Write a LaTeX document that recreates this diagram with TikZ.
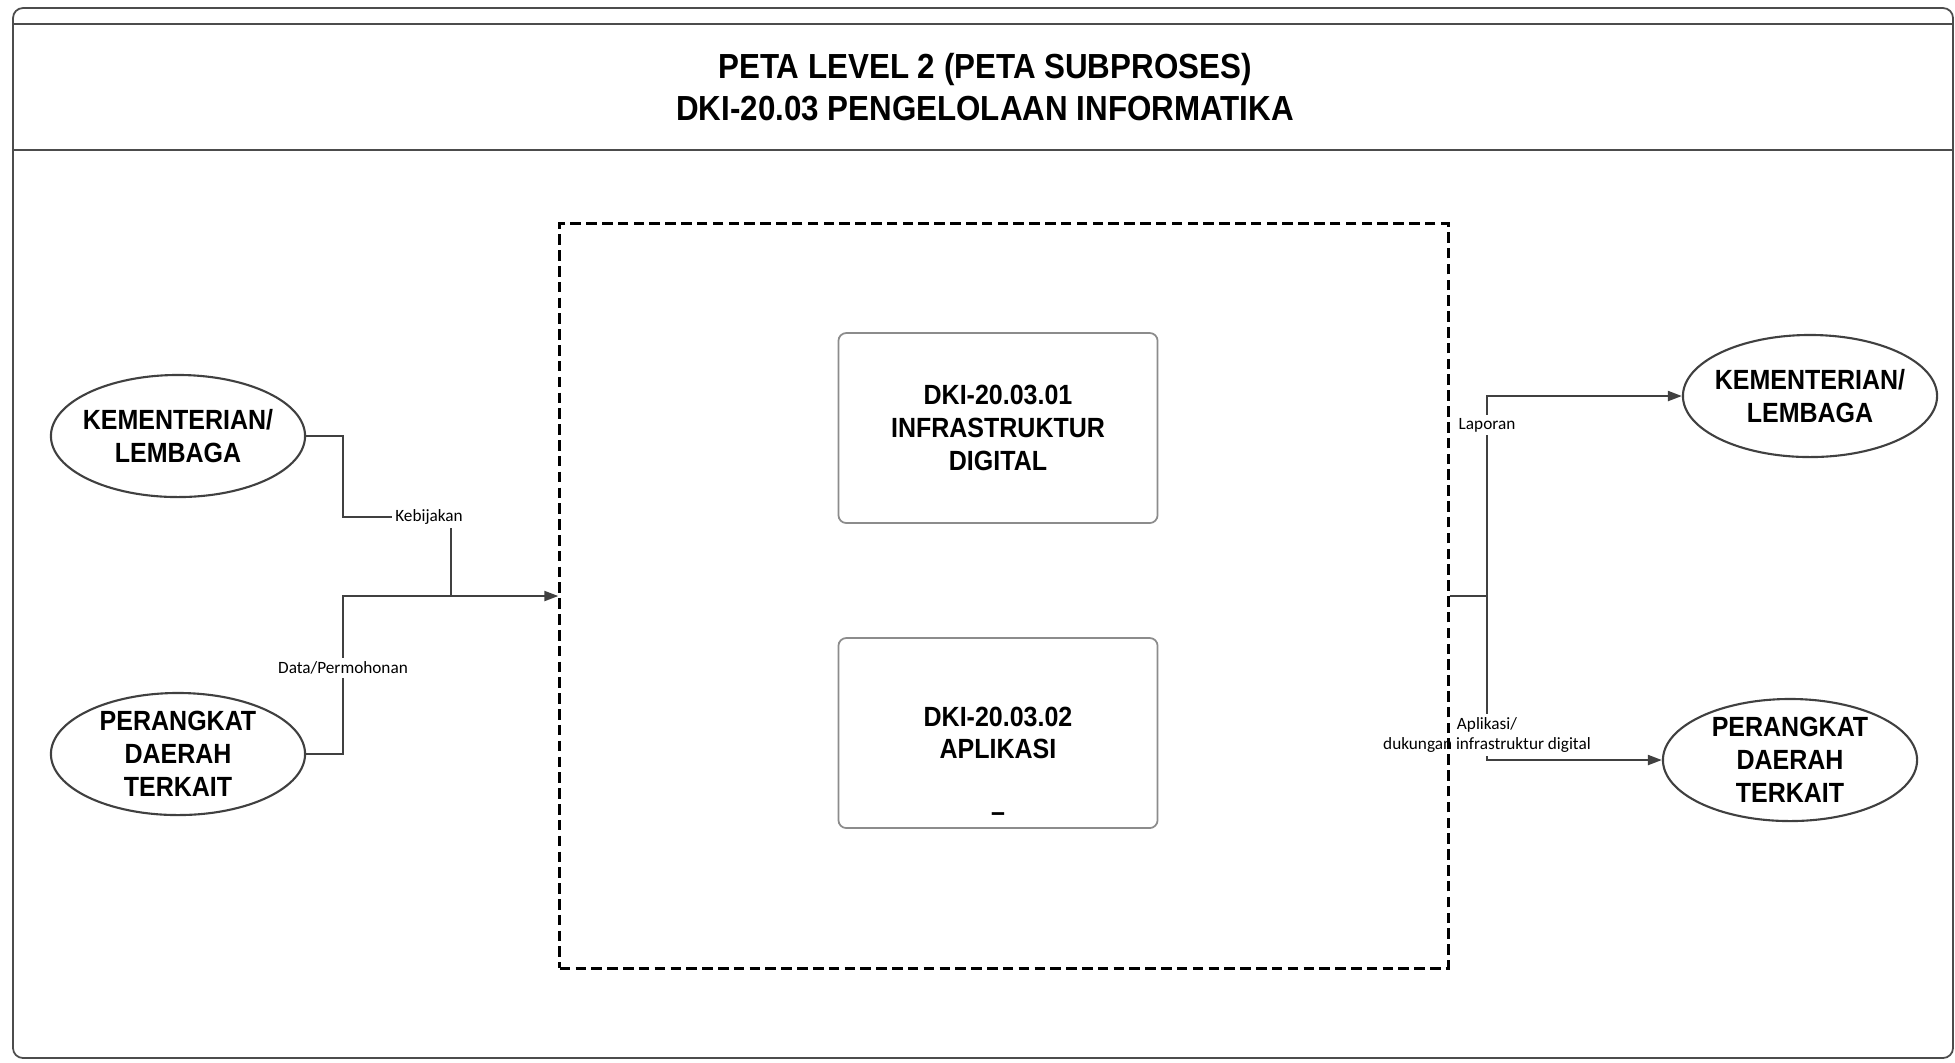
\documentclass[tikz,border=0pt]{standalone}
\usepackage{fontspec}
\setmainfont{Liberation Sans}
\newfontfamily\narrowfont[FakeStretch=0.9]{Liberation Sans}
\newfontfamily\labelfont{Carlito}
\usepackage{tikz}
\usetikzlibrary{arrows.meta,positioning,shapes.geometric,backgrounds}

\begin{document}
\begin{tikzpicture}[
  x=0.01cm, y=-0.01cm,
  frame/.style={draw=black!70, line width=0.5pt},
  party/.style={ellipse, draw=black!75, line width=0.6pt,
    minimum width=2.54cm, minimum height=1.22cm,
    inner xsep=-2pt, inner ysep=-1pt,
    align=center, font=\narrowfont\bfseries\fontsize{7.9}{9.4}\selectfont},
  subbox/.style={rectangle, rounded corners=0.08cm, draw=black!45,
    line width=0.5pt, minimum width=3.19cm, minimum height=1.9cm,
    align=center, font=\narrowfont\bfseries\fontsize{7.9}{9.3}\selectfont},
  subproc/.style={rectangle, draw=black, line width=0.8pt,
    dash pattern=on 3pt off 1.5pt, minimum width=8.88cm,
    minimum height=7.44cm},
  flow/.style={draw=black!75, line width=0.6pt},
  arr/.style={-{Triangle[length=1.4mm, width=1mm]}},
  lbl/.style={font=\labelfont\fontsize{4.9}{5.9}\selectfont,
    fill=white, inner sep=1pt, align=center},
]
  \useasboundingbox (0,0) rectangle (1955,1062);

  % Page frame and header
  \draw[frame, rounded corners=0.1cm] (13,8) rectangle (1953,1058);
  \draw[frame] (13,24) -- (1953,24);
  \draw[frame] (13,150) -- (1953,150);
  \node[align=center, font=\narrowfont\bfseries\fontsize{9.9}{11.7}\selectfont]
    (title) at (985,87)
    {PETA LEVEL 2 (PETA SUBPROSES)\\DKI-20.03 PENGELOLAAN INFORMATIKA};

  % Subprocess area
  \node[subproc] (SP) at (1004,596) {};
  \node[subbox] (S1) at (998,428)
    {DKI-20.03.01\\INFRASTRUKTUR\\DIGITAL};
  \node[subbox] (S2) at (998,733)
    {DKI-20.03.02\\APLIKASI};
  \node[inner sep=0pt, font=\narrowfont\bfseries\fontsize{7.9}{9.3}\selectfont]
    (S2mark) at (998,817) {\textendash};

  % Parties (left: input, right: output)
  \node[party] (KL) at (178,436) {KEMENTERIAN/\\LEMBAGA};
  \node[party] (PD) at (178,754) {PERANGKAT\\DAERAH\\TERKAIT};
  \node[party] (KLr) at (1810,396) {KEMENTERIAN/\\LEMBAGA};
  \node[party] (PDr) at (1790,760) {PERANGKAT\\DAERAH\\TERKAIT};

  \coordinate (mergeL) at (451,596);
  \coordinate (split) at (1487,596);

  \begin{pgfonlayer}{background}
    % Inputs
    \draw[flow] (KL.east) -| (343,517) -| (mergeL);
    \draw[flow, arr] (PD.east) -| (343,596) -- (SP.west);
    \node[lbl] (kebijakan) at (429,517) {Kebijakan};
    \node[lbl] (datamohon) at (343,668) {Data/Permohonan};

    % Outputs
    \draw[flow] (SP.east) -- (split);
    \draw[flow, arr] (split) |- (KLr.west);
    \draw[flow, arr] (split) |- (PDr.west);
    \node[lbl] (laporan) at (1487,425) {Laporan};
    \node[lbl, anchor=south] (aplikasi) at (1487,757)
      {Aplikasi/\\dukungan infrastruktur digital};
  \end{pgfonlayer}
\end{tikzpicture}
\end{document}
